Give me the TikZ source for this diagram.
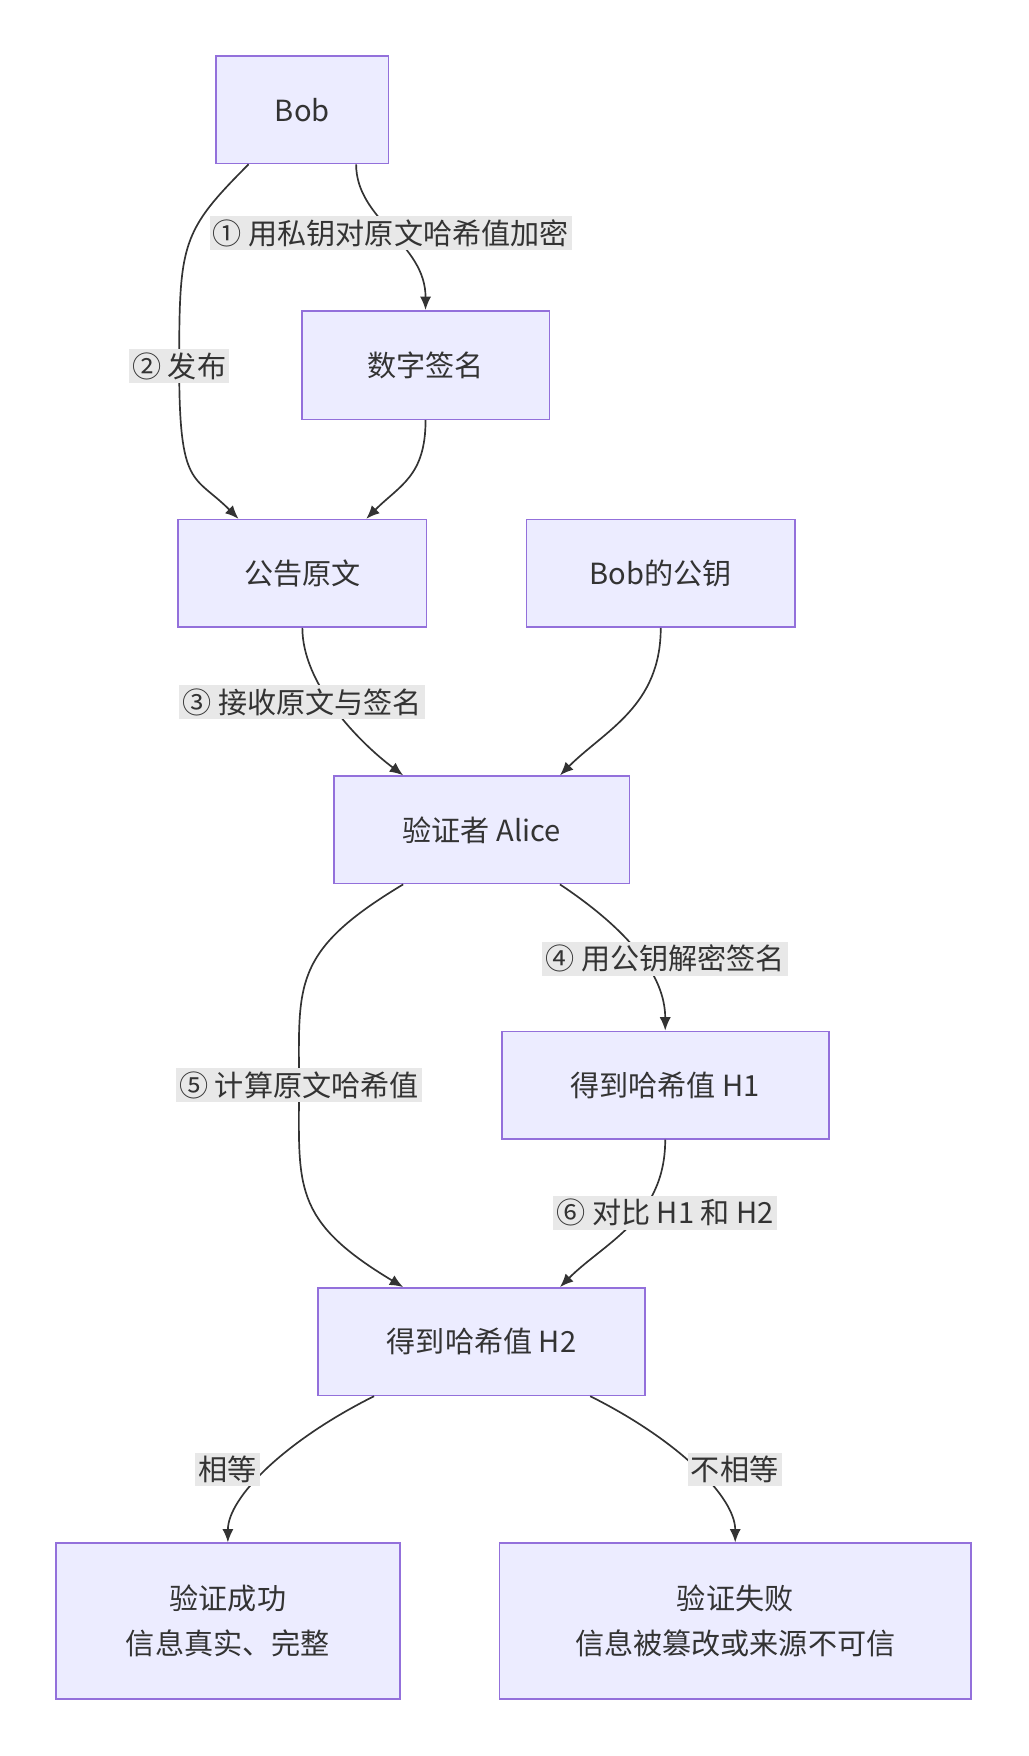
\documentclass[tikz,border=0pt]{standalone}
\usepackage{fontspec}
\setmainfont{Noto Sans CJK SC}
\usetikzlibrary{arrows.meta}
\definecolor{boxfill}{HTML}{ECECFF}
\definecolor{boxline}{HTML}{9370DB}
\definecolor{ink}{HTML}{333333}
\definecolor{lblbg}{HTML}{E8E8E8}
\begin{document}
\begin{tikzpicture}[x=0.5pt,y=-0.5pt,
  box/.style={draw=boxline,fill=boxfill,line width=0.7pt,text=ink,font=\fontsize{13}{20}\selectfont,align=center,inner sep=0pt},
  edge/.style={draw=ink,line width=0.75pt,-{Latex[length=6pt,width=5pt]}},
  lbl/.style={fill=lblbg,text=ink,font=\fontsize{13}{15}\selectfont,inner sep=1.5pt}]
\useasboundingbox (0,0) rectangle (918,1568);
\node[box,minimum width=77pt,minimum height=48pt] (bob) at (270,98) {Bob};
\node[box,minimum width=110.5pt,minimum height=48.5pt] (sig) at (380,326) {数字签名};
\node[box,minimum width=111pt,minimum height=48pt] (txt) at (270,512) {公告原文};
\node[box,minimum width=120pt,minimum height=48pt] (pk) at (590,512) {Bob的公钥};
\node[box,minimum width=132pt,minimum height=48pt] (alice) at (430,741) {验证者 Alice};
\node[box,minimum width=146pt,minimum height=48pt] (h1) at (594,969) {得到哈希值 H1};
\node[box,minimum width=146pt,minimum height=48pt] (h2) at (430,1198) {得到哈希值 H2};
\node[box,minimum width=153.5pt,minimum height=69.5pt] (ok) at (203.5,1447.5) {验证成功\\信息真实、完整};
\node[box,minimum width=210.5pt,minimum height=69.5pt] (bad) at (656.5,1447.5) {验证失败\\信息被篡改或来源不可信};

\draw[edge] ([xshift=24pt]bob.south) .. controls +(0,50) and +(0,-60) .. (sig.north)
  node[lbl,pos=0.5] at (380,212) {① 用私钥对原文哈希值加密};
\draw[edge] ([xshift=-24pt]bob.south) .. controls +(-60,60) and +(0,-110) .. (160,327)
  .. controls +(0,110) and +(-40,-40) .. ([xshift=-28.5pt]txt.north);
\node[lbl] (l2) at (160,327) {② 发布};
\draw[edge] (sig.south) .. controls +(0,50) and +(30,-30) .. ([xshift=28.5pt]txt.north);
\draw[edge] (txt.south) .. controls +(0,50) and +(-40,-30) .. ([xshift=-35pt]alice.north);
\node[lbl] (l3) at (270,627) {③ 接收原文与签名};
\draw[edge] (pk.south) .. controls +(0,70) and +(40,-40) .. ([xshift=35pt]alice.north);
\draw[edge] ([xshift=35pt]alice.south) .. controls +(60,40) and +(0,-50) .. (h1.north);
\node[lbl] (l4) at (594,856) {④ 用公钥解密签名};
\draw[edge] ([xshift=-35pt]alice.south) .. controls +(-100,60) and +(0,-90) .. (267,969)
  .. controls +(0,90) and +(-100,-60) .. ([xshift=-35pt]h2.north);
\node[lbl] (l5) at (267,969) {⑤ 计算原文哈希值};
\draw[edge] (h1.south) .. controls +(0,70) and +(40,-40) .. ([xshift=35pt]h2.north);
\node[lbl] (l6) at (594,1083) {⑥ 对比 H1 和 H2};
\draw[edge] ([xshift=-48pt]h2.south) .. controls +(-80,40) and +(0,-40) .. (ok.north);
\node[lbl] (l7) at (203,1312) {相等};
\draw[edge] ([xshift=48.5pt]h2.south) .. controls +(80,40) and +(0,-40) .. (bad.north);
\node[lbl] (l8) at (656,1312) {不相等};
\end{tikzpicture}
\end{document}
